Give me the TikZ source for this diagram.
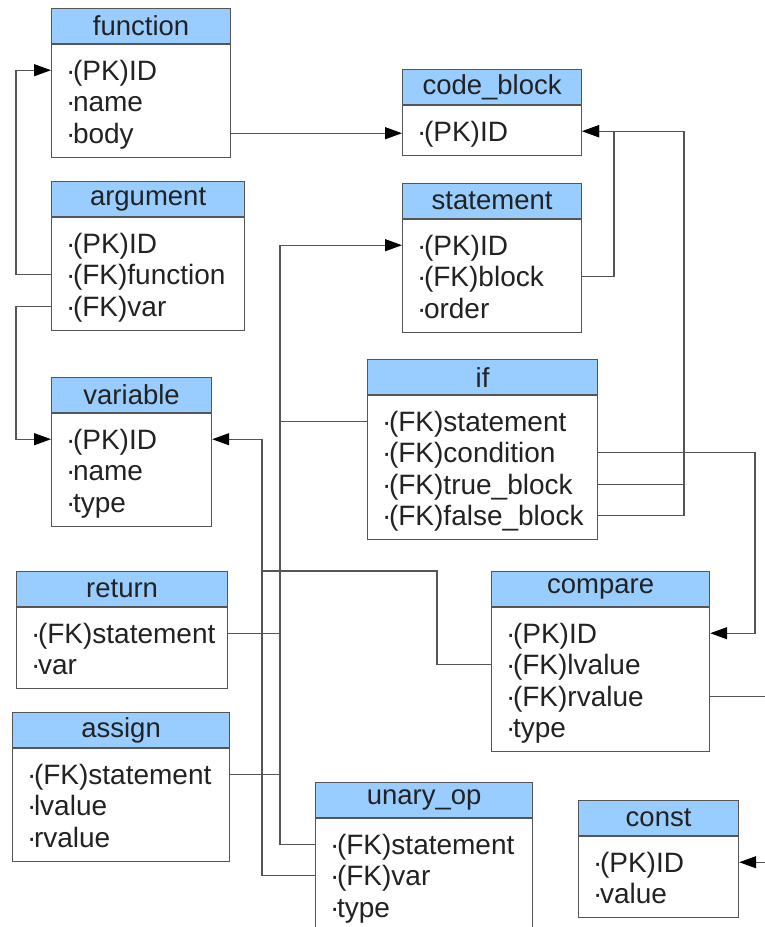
\documentclass[tikz,border=0pt]{standalone}
\usepackage{fontspec}
\setmainfont{Liberation Sans}
\usetikzlibrary{arrows.meta}

\definecolor{headblue}{HTML}{99CCFF}
\definecolor{edgegray}{HTML}{555555}
\definecolor{inkgray}{HTML}{222222}

\tikzset{
  head/.style={draw=edgegray, line width=1.2pt, fill=headblue, minimum height=35pt,
    inner sep=0pt, text=inkgray, font=\fontsize{27.5}{31}\selectfont},
  body/.style={draw=edgegray, line width=1.2pt, fill=white, inner sep=0pt},
  row/.style={anchor=west, inner sep=0pt, text height=20pt, text depth=0pt,
    text=inkgray, font=\fontsize{28}{31}\selectfont},
  link/.style={draw=edgegray, line width=1.2pt},
  arr/.style={link, -{Triangle[length=17pt, width=12pt, color=black]}}
}

% #1 name, #2 x, #3 y, #4 width, #5 title, #6 number of rows, #7 rows
\newcommand{\entity}[7]{%
  \node[head, minimum width=#4pt, anchor=north west] (#1) at (#2,#3) {#5};
  \node[body, minimum width=#4pt, minimum height={18pt+31.5pt*#6}, anchor=north] (#1-b) at (#1.south) {};
  \foreach \n/\t [count=\i] in {#7}
    \node[row] (#1-\n) at ([shift={(15,26+31.5*\i-31.5)}]#1-b.north west) {·\kern-2.5pt\t};
}

\begin{document}
\begin{tikzpicture}[x=1pt, y=-1pt]
  \useasboundingbox (0,0) rectangle (765,927);

  % Tables
  \entity{fn}{51}{8}{179}{function}{3}{id/(PK)ID, nm/name, bo/body}
  \entity{ar}{51}{181}{193}{argument}{3}{id/(PK)ID, fn/(FK)function, va/(FK)var}
  \entity{cb}{402}{69}{179}{code\_block}{1}{id/(PK)ID}
  \entity{st}{402}{183}{179}{statement}{3}{id/(PK)ID, bl/(FK)block, or/order}
  \entity{va}{51}{377}{160}{variable}{3}{id/(PK)ID, nm/name, ty/type}
  \entity{if}{367}{359}{230}{if}{4}{st/(FK)statement, co/(FK)condition, tb/(FK)true\_block, fb/(FK)false\_block}
  \entity{re}{16}{571}{211}{return}{2}{st/(FK)statement, va/var}
  \entity{cp}{491}{571}{218}{compare}{4}{id/(PK)ID, lv/(FK)lvalue, rv/(FK)rvalue, ty/type}
  \entity{as}{12}{712}{217}{assign}{3}{st/(FK)statement, lv/lvalue, rv/rvalue}
  \entity{un}{315}{782}{217}{unary\_op}{3}{st/(FK)statement, va/(FK)var, ty/type}
  \entity{co}{578}{800}{160}{const}{2}{id/(PK)ID, vl/value}

  % Bus lines
  \coordinate (lbus) at (16,0);
  \coordinate (vbus) at (262,0);
  \coordinate (sbus) at (280,0);
  \coordinate (cbus) at (614,0);
  \coordinate (tbus) at (684,0);
  \coordinate (rbus) at (755,0);
  \coordinate (edge) at (765,0);
  \coordinate (lvbend) at (437,571);

  % Function, argument, variable
  \draw[arr] (ar-fn -| ar.west) -- (ar-fn -| lbus) |- (fn-id -| fn.west);
  \draw[arr] (ar-va -| ar.west) -- (ar-va -| lbus) |- (va-id -| va.west);
  \draw[arr] (fn-bo -| fn.east) -- (fn-bo -| cb.west);

  % Blocks
  \draw[arr] (st-bl -| st.east) -- (st-bl -| cbus) |- (cb-id -| cb.east);
  \draw[arr] (if-tb -| if.east) -- (if-tb -| tbus) |- (cb-id -| cb.east);
  \draw[link] (if-fb -| if.east) -| (if-tb -| tbus);

  % Condition and const
  \draw[arr] (if-co -| if.east) -- (if-co -| rbus) |- (cp-id -| cp.east);
  \draw[link] (cp-rv -| cp.east) -- (cp-rv -| edge);
  \draw[arr] (co-id -| edge) -- (co-id -| co.east);

  % Statement links
  \draw[arr] (un-st -| un.west) -- (un-st -| sbus) |- (st-id -| st.west);
  \draw[link] (if-st -| if.west) -- (if-st -| sbus);
  \draw[link] (re-st -| re.east) -- (re-st -| sbus);
  \draw[link] (as-st -| as.east) -- (as-st -| sbus);

  % Variable links
  \draw[arr] (un-va -| un.west) -- (un-va -| vbus) |- (va-id -| va.east);
  \draw[link] (cp-lv -| cp.west) -| (lvbend) -- (lvbend -| vbus);
\end{tikzpicture}
\end{document}
